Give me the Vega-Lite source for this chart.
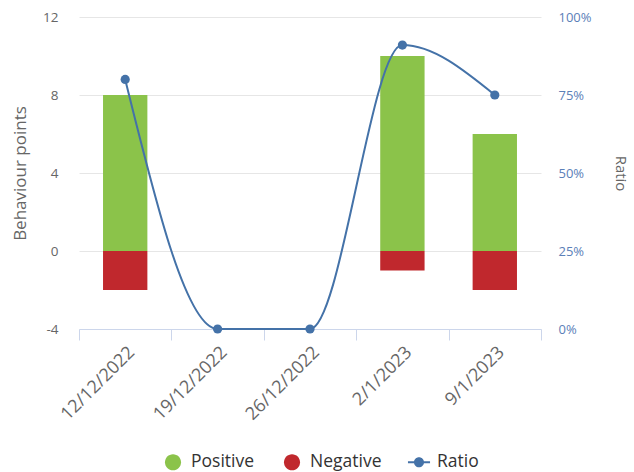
{
  "$schema": "https://vega.github.io/schema/vega-lite/v6.json",
  "width": 462,
  "height": 312,
  "padding": {"left": 11, "top": 10, "right": 5, "bottom": 5},
  "config": {
    "font": "Open Sans",
    "view": {"stroke": null},
    "axis": {"labelFont": "Open Sans", "titleFont": "Open Sans"},
    "legend": {"labelFont": "Open Sans"}
  },
  "datasets": {
    "bars": [
      {"date": "12/12/2022", "series": "Positive", "value": 8},
      {"date": "12/12/2022", "series": "Negative", "value": -2},
      {"date": "19/12/2022", "series": "Positive", "value": 0},
      {"date": "19/12/2022", "series": "Negative", "value": 0},
      {"date": "26/12/2022", "series": "Positive", "value": 0},
      {"date": "26/12/2022", "series": "Negative", "value": 0},
      {"date": "2/1/2023", "series": "Positive", "value": 10},
      {"date": "2/1/2023", "series": "Negative", "value": -1},
      {"date": "9/1/2023", "series": "Positive", "value": 6},
      {"date": "9/1/2023", "series": "Negative", "value": -2}
    ],
    "ratio": [
      {"date": "12/12/2022", "ratio": 0.8},
      {"date": "19/12/2022", "ratio": 0},
      {"date": "26/12/2022", "ratio": 0},
      {"date": "2/1/2023", "ratio": 0.91},
      {"date": "9/1/2023", "ratio": 0.75}
    ]
  },
  "encoding": {
    "x": {
      "field": "date",
      "type": "ordinal",
      "sort": ["12/12/2022", "19/12/2022", "26/12/2022", "2/1/2023", "9/1/2023"],
      "scale": {"paddingInner": 0, "paddingOuter": 0},
      "axis": {
        "title": null,
        "labelAngle": -45,
        "tickBand": "extent",
        "domainColor": "#ccd6eb",
        "tickColor": "#ccd6eb",
        "tickSize": 11,
        "labelColor": "#666666",
        "labelFontSize": 18,
        "labelPadding": 3,
        "labelDx": -7,
        "labelDy": -9
      }
    }
  },
  "layer": [
    {
      "data": {"name": "bars"},
      "mark": {"type": "bar", "width": {"band": 0.48}},
      "encoding": {
        "y": {
          "field": "value",
          "type": "quantitative",
          "stack": true,
          "scale": {"domain": [-4, 12], "nice": false},
          "axis": {
            "title": "Behaviour points",
            "values": [-4, 0, 4, 8, 12],
            "labelExpr": "replace(datum.label, '−', '-')",
            "grid": true,
            "gridColor": "#e6e6e6",
            "domain": false,
            "ticks": false,
            "labelColor": "#666666",
            "labelFontSize": 13.5,
            "labelPadding": 21,
            "titleColor": "#666666",
            "titleFontSize": 17,
            "titleFontWeight": "normal",
            "titlePadding": 13
          }
        },
        "color": {
          "field": "series",
          "type": "nominal",
          "scale": {
            "domain": ["Positive", "Negative", "Ratio"],
            "range": ["#8bc34a", "#c0282d", "#4472a8"]
          },
          "legend": {
            "title": null,
            "orient": "none",
            "legendX": 82,
            "legendY": 433,
            "padding": 0,
            "direction": "horizontal",
            "symbolSize": 576,
            "labelFontSize": 17.5,
            "labelColor": "#333333",
            "labelOffset": 6,
            "columnPadding": 25,
            "encode": {
              "symbols": {
                "update": {
                  "shape": {"signal": "datum.value === 'Ratio' ? 'M-0.92,-0.085L0.92,-0.085L0.92,0.085L-0.92,0.085Z M-0.42,0A0.42,0.42 0 1,1 0.42,0A0.42,0.42 0 1,1 -0.42,0Z' : 'M-0.67,0A0.67,0.67 0 1,1 0.67,0A0.67,0.67 0 1,1 -0.67,0Z'"},
                  "fill": {"scale": "color", "field": "value"},
                  "stroke": {"value": "transparent"},
                  "strokeWidth": {"value": 0},
                  "opacity": {"value": 1}
                }
              }
            }
          }
        }
      }
    },
    {
      "data": {"name": "ratio"},
      "encoding": {
        "y": {
          "field": "ratio",
          "type": "quantitative",
          "scale": {"domain": [0, 1], "nice": false},
          "axis": {
            "orient": "right",
            "title": "Ratio",
            "values": [0, 0.25, 0.5, 0.75, 1],
            "format": ".0%",
            "grid": false,
            "domain": false,
            "ticks": false,
            "labelColor": "#5b80b8",
            "labelFontSize": 13,
            "labelPadding": 17,
            "titleColor": "#666666",
            "titleFontSize": 15,
            "titleFontWeight": "normal",
            "titleAngle": 90,
            "titlePadding": 21
          }
        }
      },
      "layer": [
        {"mark": {"type": "line", "interpolate": "monotone", "color": "#4472a8", "strokeWidth": 2}},
        {"mark": {"type": "point", "filled": true, "size": 85, "opacity": 1, "color": "#4472a8"}}
      ]
    }
  ],
  "resolve": {"scale": {"y": "independent"}}
}
